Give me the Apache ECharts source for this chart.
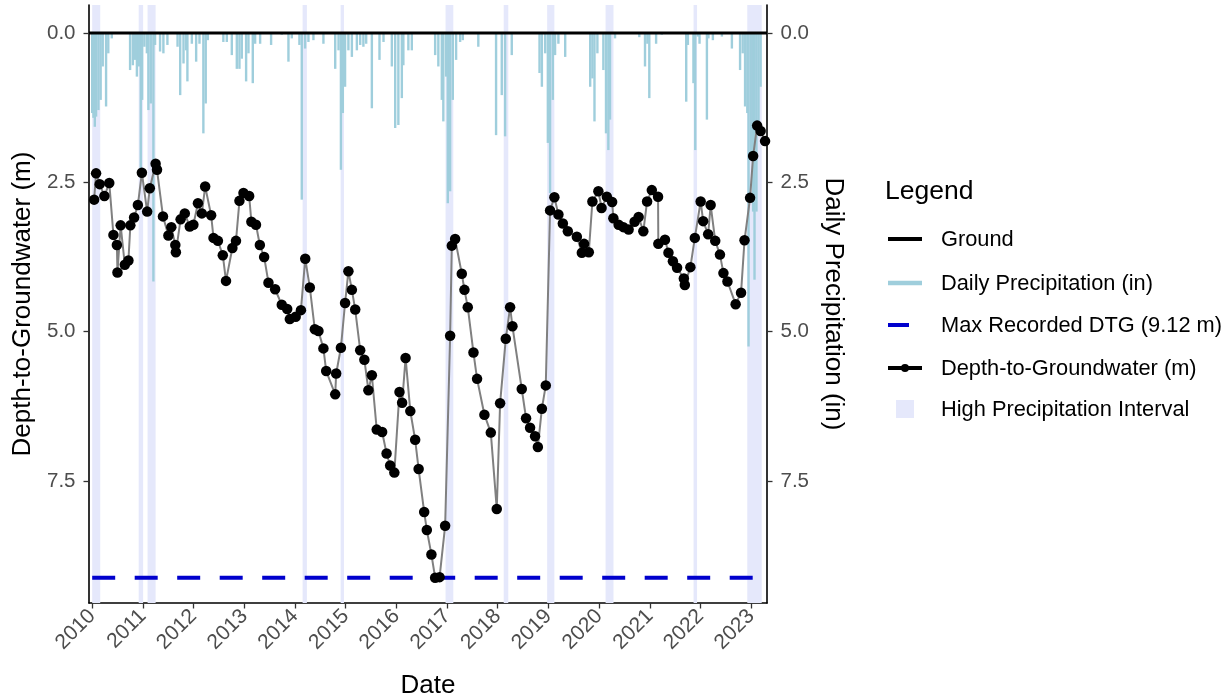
<!DOCTYPE html>
<html>
<head>
<meta charset="utf-8">
<script src="https://cdn.jsdelivr.net/npm/echarts@6/dist/echarts.min.js"></script>
<style>
html,body{margin:0;padding:0;background:#fff;}
#chart{width:1228px;height:696px;}
</style>
</head>
<body>
<div id="chart"></div>
<script>
// ---------------- DATA ----------------
const yearTicks = [2010,2011,2012,2013,2014,2015,2016,2017,2018,2019,2020,2021,2022,2023];
const yTicks = [0, 2.5, 5.0, 7.5];
const maxDTG = 9.12;
const xRange = ['2009-12-09', '2023-04-25'];

const dtgDates = [
'2010-01-15','2010-01-29','2010-02-24','2010-03-30','2010-05-04','2010-06-03','2010-06-28','2010-07-02','2010-07-25','2010-08-24',
'2010-09-19','2010-10-03','2010-10-30','2010-11-26','2010-12-25','2011-02-01','2011-02-20','2011-04-03','2011-04-13','2011-05-26',
'2011-07-04','2011-07-25','2011-08-23','2011-08-27','2011-09-30','2011-10-30','2011-12-05','2011-12-31','2012-02-02','2012-03-01',
'2012-03-25','2012-05-07','2012-05-24','2012-06-25','2012-07-30','2012-08-22','2012-10-07','2012-11-02','2012-11-27','2012-12-26',
'2013-02-05','2013-02-21','2013-03-26','2013-04-23','2013-05-24','2013-06-24','2013-08-11','2013-09-28','2013-11-06','2013-11-25',
'2014-01-06','2014-02-13','2014-03-16','2014-04-18','2014-05-24','2014-06-19','2014-07-25','2014-08-14','2014-10-18','2014-10-25',
'2014-11-28','2014-12-28','2015-01-21','2015-02-15','2015-03-11','2015-04-16','2015-05-16','2015-06-14','2015-07-09','2015-08-13',
'2015-09-21','2015-10-23','2015-11-18','2015-12-18','2016-01-24','2016-02-12','2016-03-08','2016-04-11','2016-05-16','2016-06-10',
'2016-07-20','2016-08-08','2016-09-10','2016-10-07','2016-11-08','2016-12-18','2017-01-23','2017-02-04','2017-02-28','2017-04-17',
'2017-05-06','2017-05-30','2017-07-10','2017-08-05','2017-09-27','2017-11-12','2017-12-25','2018-01-18','2018-02-28','2018-03-31',
'2018-04-17','2018-06-23','2018-07-24','2018-08-22','2018-09-27','2018-10-17','2018-11-15','2018-12-13','2019-01-13','2019-02-13',
'2019-03-14','2019-04-15','2019-05-21','2019-07-25','2019-08-30','2019-09-15','2019-10-19','2019-11-14','2019-12-27','2020-01-19',
'2020-02-26','2020-04-04','2020-04-13','2020-05-21','2020-06-24','2020-08-01','2020-09-13','2020-10-12','2020-11-15','2020-12-12',
'2021-01-15','2021-03-01','2021-03-03','2021-04-20','2021-05-15','2021-06-16','2021-07-16','2021-09-03','2021-09-10','2021-10-20',
'2021-11-21','2022-01-02','2022-01-20','2022-02-25','2022-03-15','2022-04-17','2022-05-21','2022-06-15','2022-07-14','2022-09-11',
'2022-10-20','2022-11-14','2022-12-24','2023-01-15','2023-02-13','2023-03-10','2023-04-11'
];
const dtgValues = [
2.79,2.35,2.53,2.73,2.51,3.38,3.55,4.01,3.22,3.88,
3.81,3.22,3.09,2.88,2.34,2.99,2.60,2.19,2.29,3.07,
3.39,3.25,3.55,3.67,3.12,3.02,3.24,3.21,2.85,3.02,
2.57,3.05,3.43,3.48,3.72,4.15,3.60,3.48,2.81,2.68,
2.73,3.16,3.21,3.55,3.75,4.18,4.29,4.55,4.62,4.79,
4.75,4.64,3.78,4.26,4.96,4.99,5.28,5.66,6.05,5.70,
5.27,4.52,3.99,4.30,4.63,5.31,5.47,5.98,5.73,6.64,
6.68,7.04,7.24,7.36,6.01,6.19,5.44,6.33,6.81,7.30,
8.02,8.32,8.73,9.12,9.11,8.25,5.07,3.56,3.45,4.03,
4.30,4.59,5.35,5.79,6.39,6.69,7.97,6.20,5.12,4.59,
4.91,5.96,6.45,6.61,6.75,6.93,6.29,5.90,2.97,2.75,
3.04,3.19,3.32,3.41,3.68,3.53,3.67,2.82,2.65,2.93,
2.74,2.83,3.10,3.21,3.25,3.29,3.16,3.08,3.32,2.82,
2.63,2.74,3.53,3.46,3.68,3.82,3.93,4.11,4.22,3.92,
3.43,2.82,3.15,3.37,2.88,3.48,3.71,4.02,4.16,4.54,
4.35,3.47,2.76,2.06,1.55,1.64,1.81
];

const precipDates = [
'2010-01-01','2010-01-10','2010-01-20','2010-01-29','2010-02-15','2010-03-03','2010-03-18','2010-04-11','2010-04-27','2010-05-22',
'2010-10-01','2010-10-21','2010-11-06','2010-11-19','2010-12-03','2010-12-17','2010-12-27','2011-01-12','2011-01-30','2011-02-10',
'2011-02-27','2011-03-18','2011-03-30','2011-05-05','2011-05-29','2011-06-27','2011-09-08','2011-09-27','2011-10-21','2011-11-09',
'2011-11-18','2011-12-20','2012-01-20','2012-02-13','2012-03-12','2012-03-29','2012-04-13','2012-08-03','2012-08-28','2012-10-03',
'2012-11-08','2012-11-27','2012-12-14','2013-01-14','2013-01-31','2013-03-03','2013-03-20','2013-04-25','2013-07-13','2013-09-28',
'2013-11-15','2013-12-09','2014-02-02','2014-02-19','2014-03-15','2014-04-08','2014-05-14','2014-07-25','2014-10-18','2014-11-11',
'2014-11-28','2014-12-12','2014-12-28','2015-01-21','2015-02-15','2015-03-23','2015-04-16','2015-05-09','2015-05-29','2015-07-09',
'2015-09-02','2015-10-01','2015-11-30','2015-12-24','2016-01-16','2016-02-10','2016-02-21','2016-03-28','2016-04-22','2016-10-07',
'2016-10-30','2016-11-24','2016-12-05','2016-12-25','2017-01-06','2017-01-23','2017-02-11','2017-03-07','2017-04-05','2017-04-24',
'2017-08-14','2017-12-20','2018-01-30','2018-02-23','2018-04-12','2018-10-29','2018-11-15','2018-12-09','2018-12-28','2019-01-13',
'2019-02-02','2019-02-18','2019-03-14','2019-05-02','2019-10-29','2019-11-14','2019-11-29','2019-12-20','2020-02-01','2020-02-20',
'2020-03-08','2020-03-20','2020-04-25','2020-10-17','2020-11-27','2020-12-14','2020-12-28','2021-02-15','2021-03-28','2021-09-20',
'2021-10-02','2021-11-11','2021-11-24','2021-12-13','2021-12-25','2022-02-16','2022-02-27','2022-03-31','2022-06-04','2022-08-15',
'2022-10-13','2022-11-01','2022-11-18','2022-12-04','2022-12-13','2022-12-29','2023-01-15','2023-01-25','2023-02-08','2023-02-23',
'2023-03-10'
];
const precipValues = [
1.34,1.42,1.57,1.40,1.29,1.12,0.56,1.23,0.34,0.09,
0.62,0.54,0.45,0.73,0.56,2.35,1.12,0.23,0.34,1.29,
1.18,4.16,0.20,0.31,0.34,0.20,0.23,1.04,0.51,0.29,
0.81,0.18,0.48,0.18,1.68,1.18,0.12,0.15,0.15,0.37,
0.60,0.60,0.43,0.81,0.34,0.84,0.18,0.18,0.20,0.03,
0.48,0.09,0.20,2.79,0.26,0.15,0.12,0.18,0.60,0.29,
2.29,1.34,0.90,0.29,0.40,0.29,0.20,0.23,0.18,1.26,
0.45,0.15,0.56,1.59,1.54,1.09,0.54,0.29,0.29,0.37,
0.56,1.12,1.48,0.73,2.85,2.65,1.12,0.45,0.15,0.12,
0.23,1.71,1.04,1.73,0.37,0.67,0.90,0.34,1.84,2.68,
1.12,0.37,0.18,0.40,0.90,0.76,1.48,0.34,0.62,1.68,
1.96,1.45,0.09,0.07,0.56,0.18,1.09,0.18,0.03,1.15,
0.20,0.84,1.96,0.06,0.18,1.45,0.09,0.12,0.06,0.26,
0.62,0.34,1.23,1.34,5.25,2.07,2.99,4.13,2.99,1.50,
0.90
];

const bandStarts = ['2010-01-01','2010-12-02','2011-02-04','2014-02-25','2014-11-26','2016-12-21','2018-02-13','2018-12-23','2020-02-17','2021-11-12','2022-12-04'];
const bandEnds   = ['2010-02-28','2011-01-03','2011-04-03','2014-03-28','2014-12-20','2017-02-15','2018-03-18','2019-02-13','2020-04-14','2021-12-07','2023-03-18'];

const legendLabels = ['Ground','Daily Precipitation (in)','Max Recorded DTG (9.12 m)','Depth-to-Groundwater (m)','High Precipitation Interval'];

// ---------------- HELPERS ----------------
function T(s){ const p = s.split('-').map(Number); return new Date(p[0], p[1]-1, p[2]).getTime(); }
const FONT = '"Liberation Sans", Arial, Helvetica, sans-serif';
const C_PRECIP = '#9fcedc';
const C_BAND = '#e5e8fb';
const C_MAX = '#0000cd';

const xMin = T(xRange[0]), xMax = T(xRange[1]);
const yearTs = yearTicks.map(y => new Date(y, 0, 1).getTime());

const dtgData = dtgDates.map((d, i) => [T(d), dtgValues[i]]);
const precipData = precipDates.map((d, i) => [T(d), precipValues[i]]);
const bandData = bandStarts.map((s, i) => [{xAxis: T(s)}, {xAxis: T(bandEnds[i])}]);

const chart = echarts.init(document.getElementById('chart'), null, {renderer: 'canvas'});

const yAxisCommon = {
  type: 'value', inverse: true, min: -0.469, max: 9.543,
  axisLine: {show: true, lineStyle: {color: '#000', width: 1.6}},
  axisTick: {show: true, length: 5.5, lineStyle: {color: '#333', width: 1.3}, customValues: yTicks},
  axisLabel: {customValues: yTicks, formatter: v => v.toFixed(1), color: '#4d4d4d', fontSize: 20.5, fontFamily: FONT, margin: 13.5},
  splitLine: {show: false},
  nameLocation: 'middle',
  nameTextStyle: {color: '#000', fontSize: 26, fontFamily: FONT}
};

// legend geometry
const lgX = 888, lgTextX = 941;
const rowY = [239, 283, 325, 368, 409];

const option = {
  animation: false,
  backgroundColor: '#fff',
  grid: {left: 89, right: 461, top: 5, bottom: 93, containLabel: false, outerBoundsMode: 'none'},
  xAxis: {
    type: 'value', min: xMin, max: xMax, scale: true,
    name: 'Date', nameLocation: 'middle', nameGap: 70,
    nameTextStyle: {color: '#000', fontSize: 26, fontFamily: FONT},
    axisLine: {show: true, onZero: false, lineStyle: {color: '#000', width: 1.6}},
    axisTick: {show: true, length: 5.5, lineStyle: {color: '#333', width: 1.3}, customValues: yearTs},
    axisLabel: {customValues: yearTs, formatter: v => String(new Date(v).getFullYear()), rotate: 45,
      color: '#4d4d4d', fontSize: 21, fontFamily: FONT, margin: 10},
    splitLine: {show: false}
  },
  yAxis: [
    Object.assign({}, yAxisCommon, {position: 'left', name: 'Depth-to-Groundwater (m)', nameGap: 44}),
    Object.assign({}, yAxisCommon, {position: 'right', name: 'Daily Precipitation (in)', nameGap: 45, nameRotate: -90})
  ],
  series: [
    {
      name: 'High Precipitation Interval', type: 'line', data: [], z: 1, silent: true,
      markArea: {silent: true, itemStyle: {color: C_BAND}, data: bandData}
    },
    {
      name: 'Daily Precipitation (in)', type: 'bar', yAxisIndex: 1, z: 2,
      data: precipData, barWidth: 2.4, itemStyle: {color: C_PRECIP}, silent: true
    },
    {
      name: 'Ground', type: 'line', z: 4, symbol: 'none',
      data: [[xMin, 0], [xMax, 0]], lineStyle: {color: '#000', width: 3}, silent: true
    },
    {
      name: 'Max Recorded DTG (9.12 m)', type: 'line', z: 3, symbol: 'none',
      data: [[T('2010-01-01'), maxDTG], [T('2023-04-11'), maxDTG]],
      lineStyle: {color: C_MAX, width: 4, type: [23, 19.5]}, silent: true
    },
    {
      name: 'Depth-to-Groundwater (m)', type: 'line', z: 5,
      data: dtgData, symbol: 'circle', symbolSize: 10.5,
      lineStyle: {color: '#808080', width: 2},
      itemStyle: {color: '#000', borderWidth: 0}, silent: true
    }
  ],
  graphic: [
    {type: 'text', left: 885, top: 178, style: {text: 'Legend', fill: '#000', font: '26.5px ' + FONT}},
    {type: 'line', shape: {x1: lgX, y1: rowY[0], x2: lgX + 34, y2: rowY[0]}, style: {stroke: '#000', lineWidth: 4}},
    {type: 'line', shape: {x1: lgX, y1: rowY[1], x2: lgX + 34, y2: rowY[1]}, style: {stroke: C_PRECIP, lineWidth: 4.5}},
    {type: 'line', shape: {x1: lgX, y1: rowY[2], x2: lgX + 21, y2: rowY[2]}, style: {stroke: C_MAX, lineWidth: 4}},
    {type: 'line', shape: {x1: lgX, y1: rowY[3], x2: lgX + 34, y2: rowY[3]}, style: {stroke: '#000', lineWidth: 4}},
    {type: 'circle', shape: {cx: lgX + 17, cy: rowY[3], r: 4}, style: {fill: '#000'}},
    {type: 'rect', shape: {x: lgX + 8, y: rowY[4] - 9, width: 18, height: 18}, style: {fill: C_BAND}},
  ].concat(legendLabels.map((t, i) => ({
    type: 'text', x: lgTextX, y: rowY[i] + 1,
    style: {text: t, fill: '#000', font: '21.8px ' + FONT, textVerticalAlign: 'middle', verticalAlign: 'middle'}
  })))
};
chart.setOption(option);
</script>
</body>
</html>
